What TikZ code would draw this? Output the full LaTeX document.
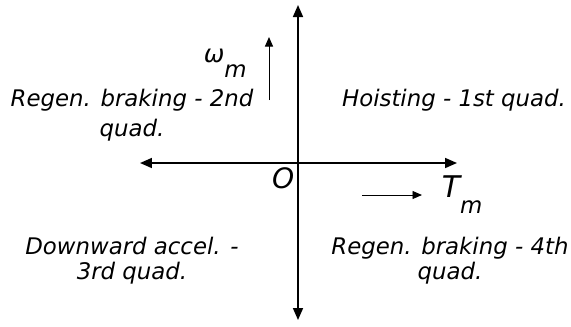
\documentclass[tikz,border=0pt]{standalone}
\usepackage{fontspec}
\setmainfont{DejaVu Sans}
\usetikzlibrary{arrows.meta}
\newcommand{\lblfont}{\itshape\fontsize{13}{14.2}\selectfont}

\begin{document}
\begin{tikzpicture}[x=0.02cm,y=-0.02cm,line width=.95pt,font=\lblfont,inner sep=0pt,
  axis/.style={{Triangle[length=2.4mm,width=2mm]}-{Triangle[length=2.4mm,width=2mm]}},
  small/.style={line width=.55pt,-{Triangle[length=1.9mm,width=1.6mm]}},
  quad/.style={anchor=base,align=center}]
\useasboundingbox (0,0) rectangle (571,326);
\coordinate (O) at (298,163);
\coordinate (xneg) at (140,163);
\coordinate (xpos) at (457,163);
\coordinate (ypos) at (298,5);
\coordinate (yneg) at (298,320);
\draw[axis] (xneg)--(xpos);
\draw[axis] (yneg)--(ypos);
\coordinate (w0) at (269,100);
\coordinate (w1) at (269,37);
\coordinate (t0) at (362,195);
\coordinate (t1) at (422,195);
\draw[small] (w0)--(w1);
\draw[small] (t0)--(t1);
% the base of a node with two lines is that of its last line
\node[anchor=base west] (wm) at (203,62) {\fontsize{14}{14}\selectfont ω\raisebox{-0.3cm}{\lblfont m}};
\node[anchor=base east] (zero) at (295,188) {\fontsize{16}{16}\selectfont O};
\node[anchor=base west] (tm) at (441,197) {\fontsize{17}{17}\selectfont T\raisebox{-0.32cm}{\lblfont m}};
\node[quad] (q2) at (132,136) {Regen. braking - 2nd\\[2.8pt]quad.};
\node[quad] (q1) at (454,106) {Hoisting - 1st quad.};
\node[quad] (q3) at (132,279) {Downward accel. -\\3rd quad.};
\node[quad] (q4) at (450,279) {Regen. braking - 4th\\quad.};
\end{tikzpicture}
\end{document}
